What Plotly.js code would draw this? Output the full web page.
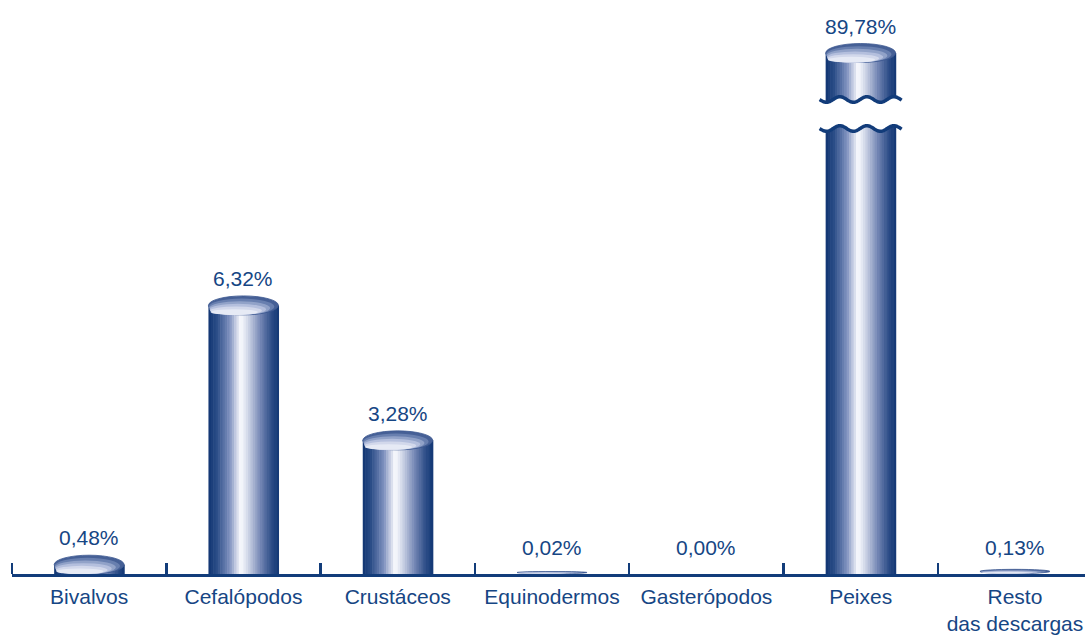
<!DOCTYPE html>
<html><head><meta charset="utf-8">
<script src="https://cdn.plot.ly/plotly-3.0.1.min.js"></script>
<style>html,body{margin:0;padding:0;background:#fff}#chart{width:1085px;height:635px}</style>
</head><body><div id="chart"></div>
<script>
// ---- data ----
const categories = ["Bivalvos","Cefalópodos","Crustáceos","Equinodermos","Gasterópodos","Peixes","Resto<br>das descargas"];
const shares = [0.48, 6.32, 3.28, 0.02, 0.00, 89.78, 0.13];
const shareLabels = shares.map(v => v.toFixed(2).replace('.', ',') + '%');

// ---- style / layout constants ----
const NAVY = 'rgb(18,60,122)';
const TEXT = 'rgb(22,70,132)';
const FONT = 'Liberation Sans, Arial, sans-serif';
const FS = 21;
const PLOT_H = 574;           // plot area height in px (margin top 0, bottom 61)
const PPU = 44.4;             // px per percentage point
const FLOOR_PX = 12;          // 3D floor sits 12px above the value zero
const yMin = FLOOR_PX / PPU;
const LOWER_TOP_PX = 122;     // lower panel top (px from top)
const UPPER_BOTTOM_PX = 106;  // upper panel bottom (px from top)
const TOP_POS_PX = 53;        // where the broken bar top sits
const yMaxLower = yMin + (PLOT_H - LOWER_TOP_PX) / PPU;
const broken = shares.map(v => v > yMaxLower);
const brokenMax = Math.max(...shares.filter((v, i) => broken[i]));
const u0 = brokenMax - (UPPER_BOTTOM_PX - TOP_POS_PX) / PPU;
const u1 = u0 + UPPER_BOTTOM_PX / PPU;

const HALF_W = 0.2268;        // half bar width in category units
const N = 30;
const stops = [[0,[16,52,114]],[0.12,[44,78,136]],[0.3,[126,144,190]],[0.46,[252,252,255]],[0.56,[210,216,233]],[0.75,[112,131,178]],[0.9,[44,77,135]],[1,[18,54,116]]];
function grad(t){
  for(let i=0;i<stops.length-1;i++){
    const [a,ca]=stops[i],[b,cb]=stops[i+1];
    if(t>=a&&t<=b){const f=(t-a)/(b-a);return 'rgb('+ca.map((c,k)=>Math.round(c+(cb[k]-c)*f)).join(',')+')';}
  }
  return 'rgb(18,54,116)';
}

const idx = categories.map((_, i) => i);
const traces = [];
const sw = 2*HALF_W/N;
for(let k=0;k<N;k++){
  const col = grad((k+0.5)/N);
  traces.push({type:'bar', x: idx, y: shares, base: 0, width: sw*1.25, offset: -HALF_W + k*sw,
    marker:{color: col, line:{width:0}}, hoverinfo:'skip', showlegend:false, xaxis:'x', yaxis:'y'});
  traces.push({type:'bar', x: idx.filter(i=>broken[i]), y: shares.filter((v,i)=>broken[i]), base: 0, width: sw*1.25, offset: -HALF_W + k*sw,
    marker:{color: col, line:{width:0}}, hoverinfo:'skip', showlegend:false, xaxis:'x', yaxis:'y2'});
}

// top ellipses
const shapes = [];
const capCols = ['rgb(70,96,150)','rgb(104,127,175)','rgb(145,162,200)','rgb(180,191,221)','rgb(210,216,235)','rgb(230,234,245)'];
shares.forEach((v, i) => {
  if (v <= 0) return;
  let ry = 9.5, anchor = v, yref = broken[i] ? 'y2' : 'y', cOff = 0;
  if (!broken[i] && v <= yMin) { ry = Math.max(1, v*16); anchor = yMin; cOff = ry + 0.5; }
  capCols.forEach((c, k) => {
    const ryk = ry*(1 - 0.14*k), s = 1 - 0.065*k;
    const cen = cOff - (ry - ryk);
    shapes.push({type:'circle', xref:'x', yref: yref, x0: i - HALF_W*s - 0.012*k, x1: i + HALF_W*s - 0.012*k,
      ysizemode:'pixel', yanchor: anchor, y0: cen - ryk, y1: cen + ryk,
      fillcolor: c, line:{width: k===0 ? 0.8 : 0, color:'rgb(60,88,145)'}, layer:'above'});
  });
});

// axis break waves
function wave(off, dir){
  const pts=[]; const A=2.8, lam=27;
  for(let x=-41;x<=41;x+=1){ pts.push([dir>0?x:-x, off + A*Math.sin(2*Math.PI*((dir>0?x:-x)+41)/lam + Math.PI)]); }
  return pts;
}
const midPaper = (PLOT_H - (LOWER_TOP_PX + UPPER_BOTTOM_PX)/2) / PLOT_H;
const gapHalf = 14.5;
shares.forEach((v, i) => {
  if (!broken[i]) return;
  const up = wave(gapHalf, 1), lo = wave(-gapHalf, -1);
  const poly = 'M' + up.concat(lo).map(p=>p[0]+','+p[1]).join(' L') + ' Z';
  shapes.push({type:'path', xref:'x', yref:'paper', xsizemode:'pixel', xanchor:i, ysizemode:'pixel', yanchor: midPaper,
    path: poly, fillcolor:'#ffffff', line:{width:0}, layer:'above'});
  [gapHalf, -gapHalf].forEach(o => {
    const p = wave(o, 1);
    shapes.push({type:'path', xref:'x', yref:'paper', xsizemode:'pixel', xanchor:i, ysizemode:'pixel', yanchor: midPaper,
      path: 'M' + p.map(q=>q[0]+','+q[1]).join(' L'), line:{width:3.5, color:NAVY}, layer:'above'});
  });
});

const annotations = shares.map((v, i) => ({
  x: i, y: broken[i] ? v : Math.max(v, yMin), xref:'x', yref: broken[i] ? 'y2' : 'y',
  text: shareLabels[i], showarrow:false, yanchor:'middle', yshift: 27,
  font:{family: FONT, size: FS, color: TEXT}
}));

const layout = {
  width:1085, height:635, margin:{l:12, r:0, t:0, b:61},
  paper_bgcolor:'#fff', plot_bgcolor:'rgba(0,0,0,0)',
  barmode:'overlay', showlegend:false,
  font:{family: FONT, color: TEXT},
  xaxis:{range:[-0.5, categories.length - 0.546], tickmode:'array', tickvals: idx, ticktext: categories,
    ticks:'', showline:true, linecolor:NAVY, linewidth:2.5, showgrid:false, zeroline:false,
    tickfont:{family: FONT, size:FS, color: TEXT}, ticklabelstandoff: 2,
    minor:{tickmode:'array', tickvals: idx.map(i=>i-0.5), ticks:'inside', ticklen:11, tickwidth:2.5, tickcolor:NAVY, showgrid:false},
    anchor:'y', fixedrange:true},
  yaxis:{domain:[0, (PLOT_H-LOWER_TOP_PX)/PLOT_H], range:[yMin, yMaxLower], visible:false, fixedrange:true},
  yaxis2:{domain:[(PLOT_H-UPPER_BOTTOM_PX)/PLOT_H, 1], range:[u0, u1], visible:false, anchor:'x', fixedrange:true},
  shapes: shapes, annotations: annotations
};
Plotly.newPlot('chart', traces, layout, {displayModeBar:false, staticPlot:true});
</script></body></html>
